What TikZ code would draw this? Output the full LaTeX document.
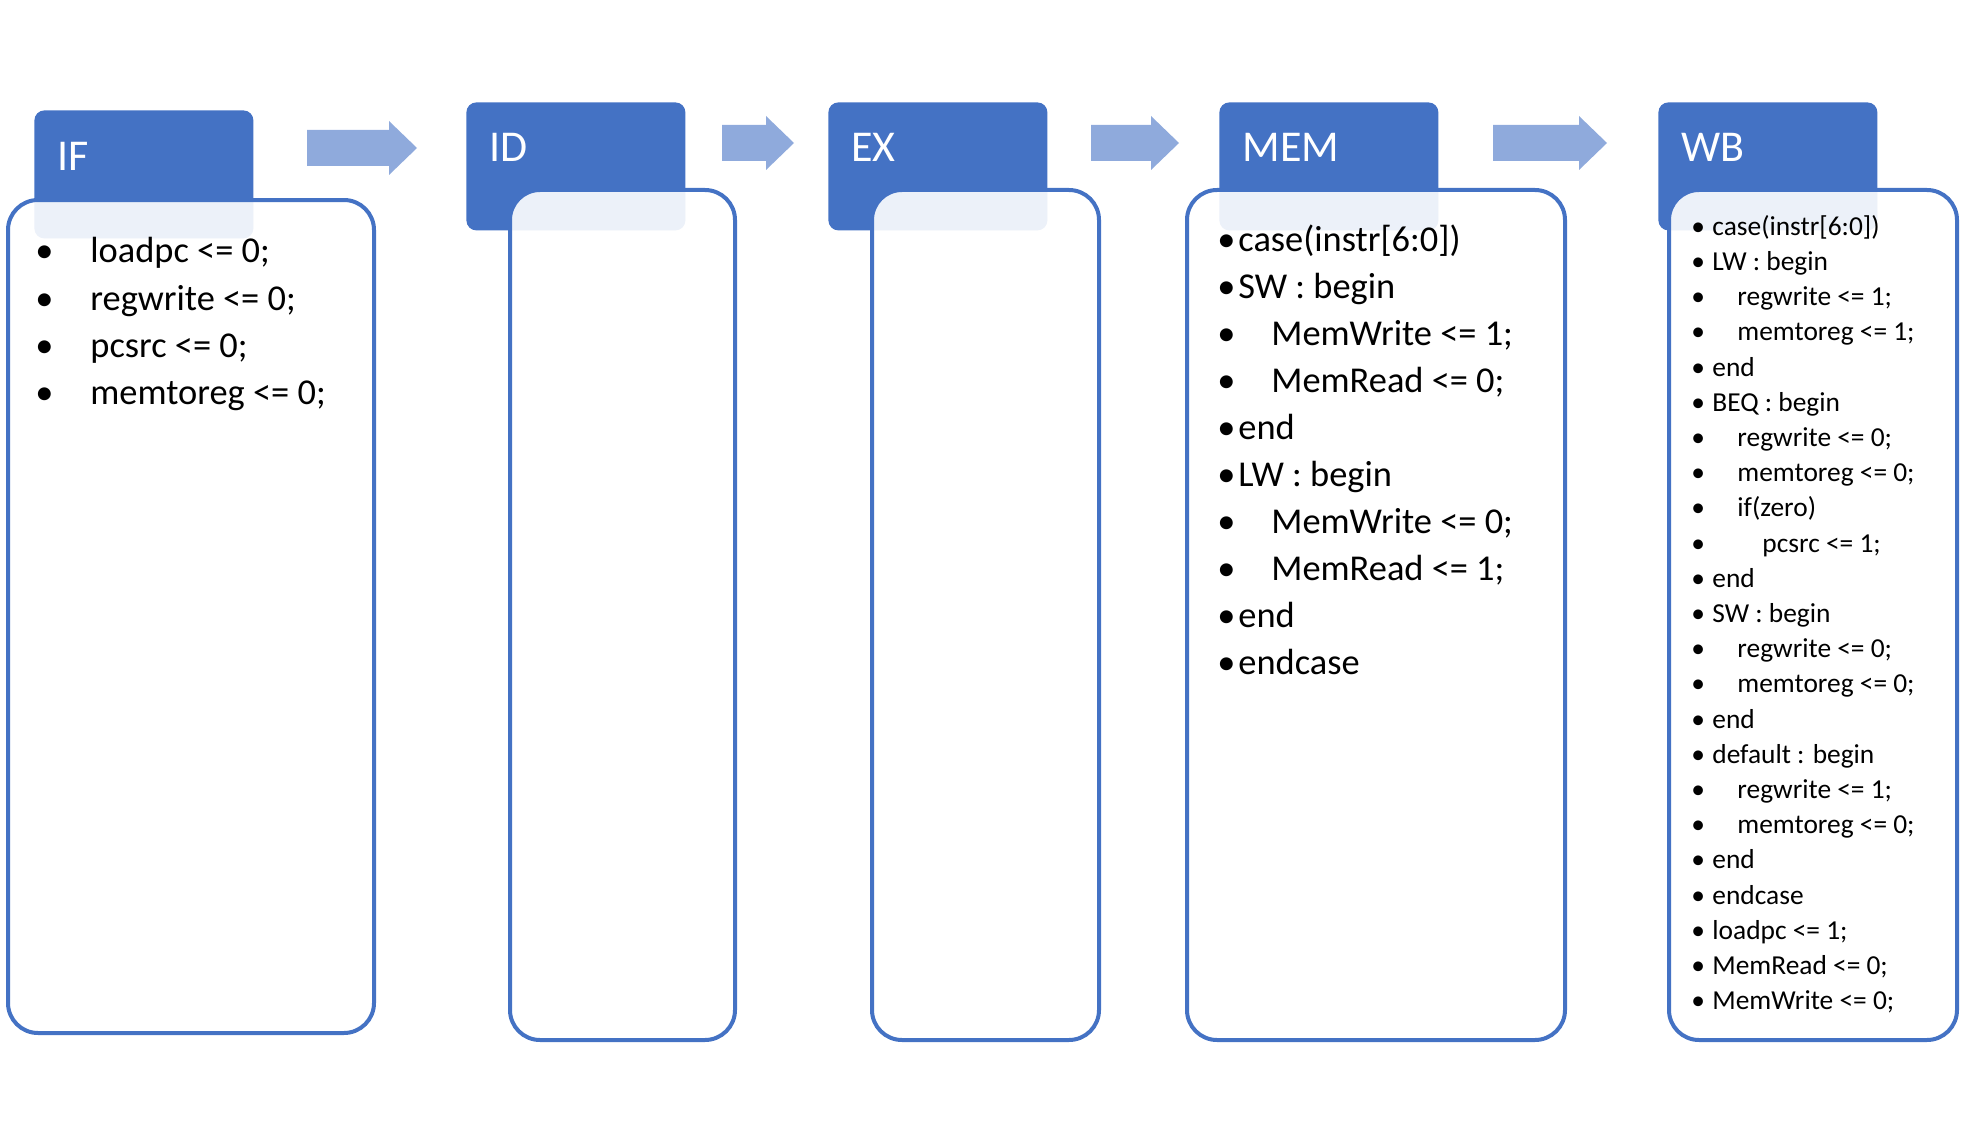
\documentclass[tikz,border=0pt]{standalone}
\usepackage{fontspec}
\setmainfont{Carlito}
\usetikzlibrary{positioning}
\definecolor{stageblue}{HTML}{4472C4}
\definecolor{arrowblue}{HTML}{8FAADC}
\tikzset{
  stagehead/.style={fill=stageblue,rounded corners=5pt,anchor=north west,inner sep=0,
    minimum width=109.5pt,minimum height=64pt},
  stagebody/.style={draw=stageblue,line width=2pt,fill=white,fill opacity=.9,
    rounded corners=15pt,anchor=north west,inner sep=0},
  headtext/.style={text=white,font=\fontsize{22}{26}\selectfont,anchor=base west,inner sep=0},
  bigline/.style={font=\fontsize{18.2}{22}\selectfont,anchor=base west,inner sep=0},
  smallline/.style={font=\fontsize{13.7}{16}\selectfont,anchor=base west,inner sep=0}
}
\begin{document}
\begin{tikzpicture}[x=.5pt,y=-.5pt]
  \useasboundingbox (0,0) rectangle (1966,1145);
  % stage headers
  \foreach \n/\hx/\hy/\lbl in {if/34/110/IF,id/466/102/ID,ex/828/102/EX,mem/1219/102/MEM,wb/1658/102/WB}{
    \node[stagehead] (\n head) at (\hx,\hy) {};
    \node[headtext] (\n label) at (\hx+23,\hy+60) {\lbl};
  }
  % arrows between stages
  \foreach \xa/\xb/\ym in {307/417/148,722/794/143,1091/1179/143,1493/1607/143}
    \fill[arrowblue] (\xa,\ym-18) -- (\xb-28,\ym-18) -- (\xb-28,\ym-27) -- (\xb,\ym)
      -- (\xb-28,\ym+27) -- (\xb-28,\ym+18) -- (\xa,\ym+18) -- cycle;
  % stage bodies
  \node[stagebody,minimum width=183pt,minimum height=416.5pt] (ifbody) at (6,198) {};
  \node[stagebody,minimum width=112.5pt,minimum height=425pt] (idbody) at (508,188) {};
  \node[stagebody,minimum width=113.5pt,minimum height=425pt] (exbody) at (870,188) {};
  \node[stagebody,minimum width=189pt,minimum height=425pt] (membody) at (1185,188) {};
  \node[stagebody,minimum width=144pt,minimum height=425pt] (wbbody) at (1667,188) {};

  \foreach \t [count=\i] in {loadpc <= 0;,regwrite <= 0;,pcsrc <= 0;,memtoreg <= 0;}{
    \node[bigline] (ifdot\i) at (35,216+47*\i) {•};
    \node[bigline] (ifline\i) at (90,216+47*\i) {\t};
  }
  \foreach \l/\t [count=\i] in {0/case(instr[6:0]),0/SW : begin,1/MemWrite <= 1;,1/MemRead <= 0;,
      0/end,0/LW : begin,1/MemWrite <= 0;,1/MemRead <= 1;,0/end,0/endcase}{
    \node[bigline] (memdot\i) at (1217,204.5+47*\i) {•};
    \node[bigline] (memline\i) at (1238+33*\l,204.5+47*\i) {\t};
  }
  \foreach \l/\t [count=\i] in {0/case(instr[6:0]),0/LW : begin,1/regwrite <= 1;,1/memtoreg <= 1;,
      0/end,0/BEQ : begin,1/regwrite <= 0;,1/memtoreg <= 0;,1/if(zero),2/pcsrc <= 1;,0/end,
      0/SW : begin,1/regwrite <= 0;,1/memtoreg <= 0;,0/end,0/default : begin,1/regwrite <= 1;,
      1/memtoreg <= 0;,0/end,0/endcase,0/loadpc <= 1;,0/MemRead <= 0;,0/MemWrite <= 0;}{
    \node[smallline] (wbdot\i) at (1691,200+35.2*\i) {•};
    \node[smallline] (wbline\i) at (1712+25*\l,200+35.2*\i) {\t};
  }
\end{tikzpicture}
\end{document}
